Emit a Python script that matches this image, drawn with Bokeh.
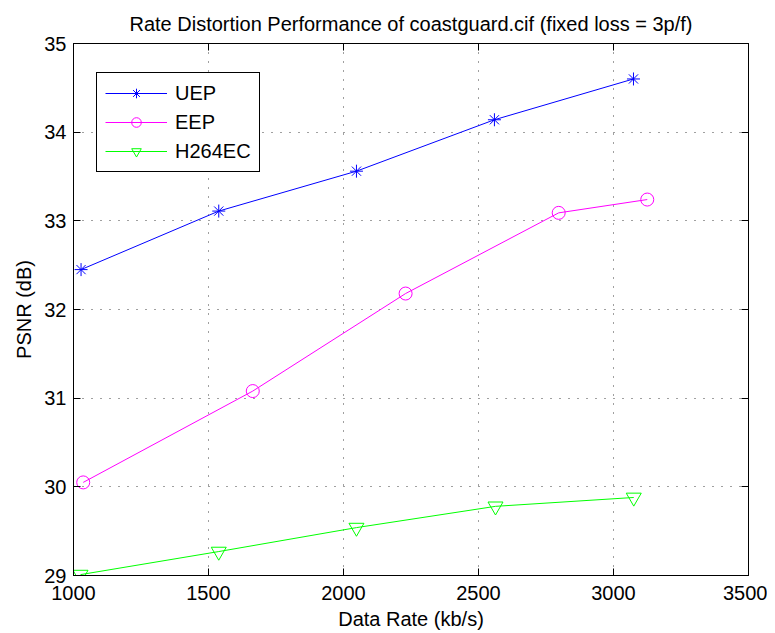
from bokeh.plotting import figure
from bokeh.models import Range1d, LinearAxis, FixedTicker, Legend, LegendItem
from bokeh.embed import file_html
from bokeh.resources import INLINE

# Data
uep_rate = [1028, 1538, 2048, 2559, 3074]
uep_psnr = [32.45, 33.11, 33.56, 34.14, 34.60]

eep_rate = [1036, 1664, 2230, 2797, 3125]
eep_psnr = [30.05, 31.08, 32.18, 33.09, 33.24]

h264_rate = [1026, 1538, 2048, 2563, 3075]
h264_psnr = [29.01, 29.27, 29.54, 29.78, 29.88]

x_ticks = [1000, 1500, 2000, 2500, 3000, 3500]
y_ticks = [29, 30, 31, 32, 33, 34, 35]

FONT = "Liberation Sans"
FS = "20px"

p = figure(width=767, height=633, output_backend="svg", toolbar_location=None,
           x_range=Range1d(1000, 3500), y_range=Range1d(29, 35),
           title="Rate Distortion Performance of coastguard.cif (fixed loss = 3p/f)",
           min_border_left=73, min_border_right=19, min_border_top=43, min_border_bottom=58)

p.title.align = "center"
p.title.text_font = FONT
p.title.text_font_size = FS
p.title.text_font_style = "normal"
p.title.text_color = "black"
p.title.offset = 0
p.title.standoff = 18

p.outline_line_color = "black"
p.outline_line_alpha = 1
p.outline_line_width = 1

for ax, ticks in ((p.xaxis[0], x_ticks), (p.yaxis[0], y_ticks)):
    ax.ticker = FixedTicker(ticks=ticks)
    ax.major_tick_in = 7
    ax.major_tick_out = 0
    ax.minor_tick_in = 0
    ax.minor_tick_out = 0
    ax.major_label_text_font = FONT
    ax.major_label_text_font_size = FS
    ax.major_label_text_color = "black"
    ax.axis_label_text_font = FONT
    ax.axis_label_text_font_size = FS
    ax.axis_label_text_font_style = "normal"
    ax.axis_label_text_color = "black"
    ax.axis_line_color = "black"
    ax.major_tick_line_color = "black"

p.xaxis.axis_label = "Data Rate (kb/s)"
p.yaxis.axis_label = "PSNR (dB)"
p.xaxis.major_label_standoff = 10
p.xaxis.axis_label_standoff = 5
p.yaxis.major_label_standoff = 7
p.yaxis.axis_label_standoff = 6

# mirrored tick marks on top and right (no labels)
for loc, ticks in (("right", y_ticks), ("above", x_ticks)):
    ax = LinearAxis(ticker=FixedTicker(ticks=ticks))
    ax.major_tick_in = 7
    ax.major_tick_out = 0
    ax.minor_tick_in = 0
    ax.minor_tick_out = 0
    ax.major_label_overrides = {t: "" for t in ticks}
    ax.major_label_standoff = 0
    ax.axis_line_color = "black"
    ax.major_tick_line_color = "black"
    p.add_layout(ax, loc)

for g, ticks in ((p.xgrid[0], x_ticks), (p.ygrid[0], y_ticks)):
    g.ticker = FixedTicker(ticks=ticks)
    g.grid_line_color = "black"
    g.grid_line_alpha = 0.75
    g.grid_line_dash = "1 8"
    g.grid_line_width = 1

series = [
    ("UEP", uep_rate, uep_psnr, "#0000ff", "asterisk", 13),
    ("EEP", eep_rate, eep_psnr, "#ff00ff", "circle", 13),
    ("H264EC", h264_rate, h264_psnr, "#00ff00", "inverted_triangle", 15),
]

items = []
for name, xs, ys, col, mk, sz in series:
    l = p.line(xs, ys, line_color=col, line_width=1)
    s = p.scatter(xs, ys, marker=mk, size=sz, line_color=col, fill_color=None, line_width=1)
    items.append(LegendItem(label=name, renderers=[l, s]))

legend = Legend(items=items, location=(23, 403))
legend.border_line_color = "black"
legend.border_line_alpha = 1
legend.border_line_width = 1
legend.background_fill_color = "white"
legend.background_fill_alpha = 1
legend.label_text_font = FONT
legend.label_text_font_size = FS
legend.label_text_color = "black"
legend.glyph_width = 62
legend.glyph_height = 24
legend.label_height = 24
legend.label_standoff = 8
legend.spacing = 5
legend.padding = 8
legend.margin = 0
p.add_layout(legend, "center")

open("out.html", "w").write(file_html(p, INLINE))
